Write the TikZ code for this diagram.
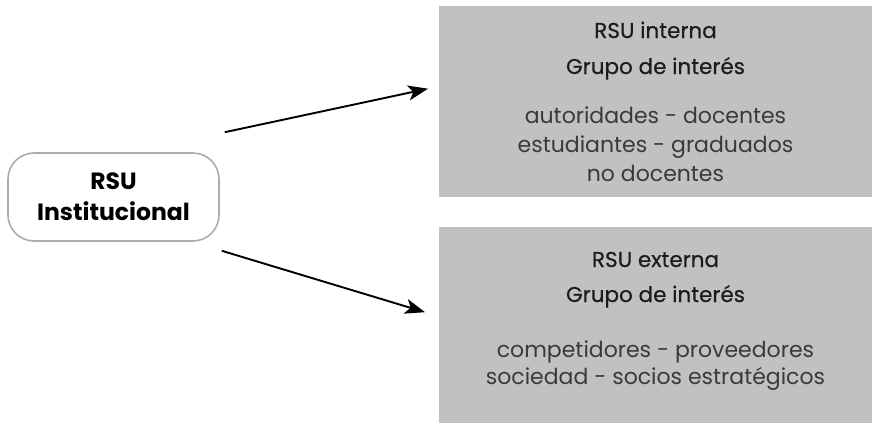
\documentclass[tikz,border=0pt]{standalone}
\usepackage{fontspec}
\setmainfont{Poppins}
\newfontfamily\medfont{Poppins}[FakeBold=0.5]
\usetikzlibrary{arrows.meta,positioning}

\definecolor{boxgray}{HTML}{C1C1C1}
\definecolor{edgegray}{HTML}{ADADAD}
\definecolor{titletext}{HTML}{1C1C1C}
\definecolor{bodytext}{HTML}{3A3A3A}

\tikzset{
  grupobox/.style={fill=boxgray, draw=none, inner sep=0pt, minimum width=433pt},
  inst/.style={draw=edgegray, line width=1.6pt, rounded corners=26pt, fill=white,
    minimum width=211pt, minimum height=88pt, align=center, text=black,
    font=\fontsize{23.5}{26}\selectfont\bfseries},
  titulo/.style={anchor=base, text=titletext, inner sep=0pt, font=\fontsize{21.5}{24}\selectfont\medfont},
  lista/.style={anchor=base, text=bodytext, inner sep=0pt, font=\fontsize{22}{24}\selectfont},
  flecha/.style={line width=1.9pt, -{Stealth[length=20pt,width=15pt,inset=5pt]}}
}

\begin{document}
\begin{tikzpicture}[x=1pt,y=-1pt]
  \useasboundingbox (0,0) rectangle (872,423);

  % Grey boxes on the right
  \node[grupobox, minimum height=191pt, anchor=north west] (interna) at (439,6) {};
  \node[grupobox, minimum height=196pt, anchor=north west] (externa) at (439,227) {};

  % Main node
  \node[inst] (rsu) at (113.5,197) {RSU\\[5pt]Institucional};

  % Texts of the upper box
  \node[titulo] (intA) at (655.5,38) {RSU interna};
  \node[titulo] (intB) at (655.5,74) {Grupo de interés};
  \foreach \t/\y [count=\i] in {autoridades - docentes/123, estudiantes - graduados/152, no docentes/181} {
      \node[lista] (intL\i) at (655.5,\y) {\t};
  }

  % Texts of the lower box
  \node[titulo] (extA) at (655.5,267) {RSU externa};
  \node[titulo] (extB) at (655.5,302) {Grupo de interés};
  \foreach \t/\y [count=\i] in {competidores - proveedores/357, sociedad - socios estratégicos/384} {
      \node[lista] (extL\i) at (655.5,\y) {\t};
  }

  % Arrows
  \draw[flecha] ([shift={(5,-20)}]rsu.north east) -- ([shift={(-11,-13)}]interna.west);
  \draw[flecha] ([shift={(2,9)}]rsu.south east) -- ([shift={(-14,-13)}]externa.west);
\end{tikzpicture}
\end{document}
